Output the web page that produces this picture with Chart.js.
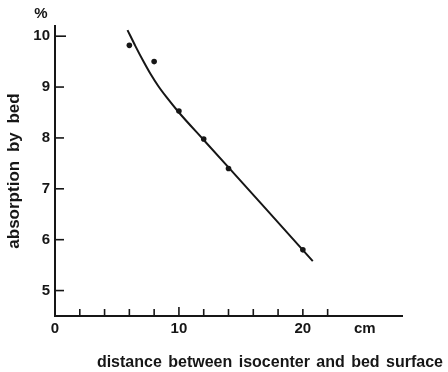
<!DOCTYPE html>
<html>
<head>
<meta charset="utf-8">
<script src="https://cdn.jsdelivr.net/npm/chart.js@4/dist/chart.umd.min.js"></script>
<style>
  html, body { margin: 0; padding: 0; background: #fff; }
  #wrap { width: 448px; height: 372px; }
</style>
</head>
<body>
<div id="wrap"><canvas id="c" width="448" height="372"></canvas></div>
<script>
// Measured absorption by the treatment bed vs. isocenter-to-bed distance
const distanceCm = [6, 8, 10, 12, 14, 20];
const absorptionPct = [9.82, 9.50, 8.53, 7.98, 7.40, 5.80];

// Hand-drawn trend curve through the measurements
const fitDistanceCm = [5.85, 6.5, 7.1, 7.7, 8.33, 9, 10, 12, 14, 17, 20.8];
const fitAbsorptionPct = [10.12, 9.80, 9.52, 9.26, 9.02, 8.80, 8.50, 7.96, 7.42, 6.61, 5.58];

// Axis ticks
const yTickValues = [5, 6, 7, 8, 9, 10];
const xLabelValues = [0, 10, 20];
const xUnitLabel = 'cm';
const xUnitValue = 25;
const xMinorTicks = [2, 4, 6, 8, 10, 12, 14, 16, 18, 20, 22];

const yTitle = 'absorption by bed';
const xTitle = 'distance between isocenter and bed surface';
const unitMark = '%';

const ink = '#161616';
const fontFam = '"Liberation Sans", Arial, sans-serif';

const inkTicks = {
  id: 'inkTicks',
  afterDraw(chart) {
    const ctx = chart.ctx;
    const xs = chart.scales.x, ys = chart.scales.y;
    const x0 = xs.getPixelForValue(0);
    const yBase = ys.bottom;
    ctx.save();
    ctx.strokeStyle = ink;
    ctx.lineWidth = 1.6;
    // y tick marks pointing into the plot
    yTickValues.forEach(v => {
      const py = ys.getPixelForValue(v);
      ctx.beginPath();
      ctx.moveTo(x0, py);
      ctx.lineTo(x0 + (v === 10 ? 11 : 9), py);
      ctx.stroke();
    });
    // x tick marks pointing up
    xMinorTicks.forEach(v => {
      const px = xs.getPixelForValue(v);
      ctx.beginPath();
      ctx.moveTo(px, yBase);
      ctx.lineTo(px, yBase - (v === 10 ? 9 : 7));
      ctx.stroke();
    });
    // captions
    ctx.fillStyle = ink;
    ctx.font = 'bold 15px ' + fontFam;
    ctx.textAlign = 'center';
    ctx.textBaseline = 'middle';
    ctx.fillText(unitMark, x0 - 14, 14);
    ctx.font = 'bold 16px ' + fontFam;
    ctx.textAlign = 'right';
    ctx.textBaseline = 'alphabetic';
    if ('wordSpacing' in ctx) ctx.wordSpacing = '2px';
    ctx.fillText(xTitle, chart.width - 5, 367);
    ctx.restore();
  }
};

const yTitleSpacing = {
  id: 'yTitleSpacing',
  beforeDraw(chart) { if ('wordSpacing' in chart.ctx) chart.ctx.wordSpacing = '4px'; },
  afterDraw(chart) { if ('wordSpacing' in chart.ctx) chart.ctx.wordSpacing = '0px'; }
};

new Chart(document.getElementById('c'), {
  type: 'scatter',
  data: {
    datasets: [
      {
        type: 'line',
        data: fitDistanceCm.map((x, i) => ({ x, y: fitAbsorptionPct[i] })),
        borderColor: ink,
        borderWidth: 2,
        pointRadius: 0,
        cubicInterpolationMode: 'monotone',
        fill: false
      },
      {
        data: distanceCm.map((x, i) => ({ x, y: absorptionPct[i] })),
        backgroundColor: ink,
        borderColor: ink,
        borderWidth: 0,
        pointRadius: 2.8
      }
    ]
  },
  options: {
    responsive: false,
    animation: false,
    layout: { padding: { top: 26, right: 46, bottom: 0, left: 0 } },
    plugins: { legend: { display: false }, tooltip: { enabled: false } },
    scales: {
      x: {
        type: 'linear',
        min: 0,
        max: 28,
        grid: { display: false, drawTicks: false },
        border: { display: true, color: ink, width: 2 },
        afterBuildTicks: s => { s.ticks = xLabelValues.concat([xUnitValue]).map(v => ({ value: v })); },
        afterFit: s => { s.height = 56; },
        ticks: {
          color: ink,
          padding: 4,
          font: { family: fontFam, size: 15, weight: 'bold' },
          callback: v => (v === xUnitValue ? xUnitLabel : String(v))
        }
      },
      y: {
        type: 'linear',
        min: 4.5,
        max: 10.2,
        grid: { display: false, drawTicks: false },
        border: { display: true, color: ink, width: 2 },
        afterBuildTicks: s => { s.ticks = yTickValues.map(v => ({ value: v })); },
        afterFit: s => { s.width = 55; },
        ticks: {
          color: ink,
          padding: 5,
          font: { family: fontFam, size: 15, weight: 'bold' }
        },
        title: {
          display: true,
          text: yTitle,
          color: ink,
          font: { family: fontFam, size: 17, weight: 'bold' },
          padding: { top: 4, bottom: 0 }
        }
      }
    }
  },
  plugins: [yTitleSpacing, inkTicks]
});
</script>
</body>
</html>
